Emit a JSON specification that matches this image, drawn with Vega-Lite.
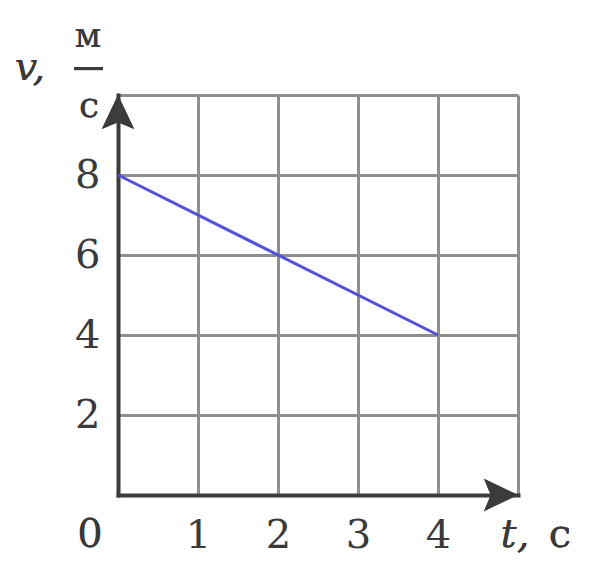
{
  "$schema": "https://vega.github.io/schema/vega-lite/v6.json",
  "width": 400,
  "height": 400,
  "autosize": {"type": "none"},
  "padding": {"left": 118, "top": 95, "right": 74, "bottom": 75},
  "background": "white",
  "config": {"view": {"stroke": null}, "font": "DejaVu Serif"},
  "data": {"values": [{"t": 0, "v": 8}, {"t": 4, "v": 4}]},
  "layer": [
    {
      "mark": {"type": "line", "color": "#5252d6", "strokeWidth": 3},
      "encoding": {
        "x": {
          "field": "t", "type": "quantitative",
          "scale": {"domain": [0, 5], "nice": false, "zero": false},
          "axis": {
            "title": null, "values": [0, 1, 2, 3, 4, 5], "format": "d", "grid": true,
            "gridColor": "#8e8e8e", "gridWidth": 3, "gridOpacity": 1,
            "ticks": false, "domain": true, "domainColor": "#3c3c3c", "domainWidth": 4, "domainCap": "square",
            "labelExpr": "datum.value >= 1 && datum.value <= 4 ? datum.label : ''",
            "labelFontSize": 40, "labelColor": "#3a3a3a", "labelFont": "DejaVu Serif",
            "labelBaseline": "alphabetic", "labelPadding": 52,
            "labelOverlap": false, "labelFlush": false, "labelBound": false
          }
        },
        "y": {
          "field": "v", "type": "quantitative",
          "scale": {"domain": [0, 10], "nice": false, "zero": false},
          "axis": {
            "title": null, "values": [0, 2, 4, 6, 8, 10], "format": "d", "grid": true,
            "gridColor": "#8e8e8e", "gridWidth": 3, "gridOpacity": 1,
            "ticks": false, "domain": true, "domainColor": "#3c3c3c", "domainWidth": 4, "domainCap": "square",
            "labelExpr": "datum.value >= 2 && datum.value <= 8 ? datum.label : ''",
            "labelFontSize": 40, "labelColor": "#3a3a3a", "labelFont": "DejaVu Serif",
            "labelBaseline": "middle", "labelAlign": "right", "labelPadding": 18,
            "labelOverlap": false, "labelFlush": false, "labelBound": false
          }
        }
      }
    },
    {
      "mark": {"type": "point", "shape": "M0,0 L0.95,2 L0,1.6 L-0.95,2 Z", "filled": true, "opacity": 1, "color": "#3c3c3c", "size": 1156},
      "encoding": {"x": {"datum": 0, "type": "quantitative"}, "y": {"datum": 10, "type": "quantitative"}}
    },
    {
      "mark": {"type": "point", "shape": "M0,0 L-2,0.95 L-1.6,0 L-2,-0.95 Z", "filled": true, "opacity": 1, "color": "#3c3c3c", "size": 1156},
      "encoding": {"x": {"datum": 5, "type": "quantitative"}, "y": {"datum": 0, "type": "quantitative"}}
    },
    {
      "mark": {"type": "text", "fontSize": 40, "color": "#3a3a3a", "align": "center", "baseline": "alphabetic"},
      "encoding": {"x": {"datum": -0.35, "type": "quantitative"}, "y": {"datum": -1.3, "type": "quantitative"}, "text": {"value": "0"}}
    },
    {
      "mark": {"type": "text", "fontSize": 40, "fontStyle": "italic", "color": "#3a3a3a", "align": "center", "baseline": "alphabetic"},
      "encoding": {"x": {"datum": 4.9625, "type": "quantitative"}, "y": {"datum": -1.3, "type": "quantitative"}, "text": {"value": "t,"}}
    },
    {
      "mark": {"type": "text", "fontSize": 40, "color": "#3a3a3a", "align": "center", "baseline": "alphabetic"},
      "encoding": {"x": {"datum": 5.525, "type": "quantitative"}, "y": {"datum": -1.3, "type": "quantitative"}, "text": {"value": "с"}}
    },
    {
      "mark": {"type": "text", "fontSize": 40, "fontStyle": "italic", "color": "#3a3a3a", "align": "center", "baseline": "alphabetic"},
      "encoding": {"x": {"datum": -1.1, "type": "quantitative"}, "y": {"datum": 10.375, "type": "quantitative"}, "text": {"value": "v,"}}
    },
    {
      "mark": {"type": "text", "fontSize": 34, "color": "#3a3a3a", "align": "center", "baseline": "alphabetic"},
      "encoding": {"x": {"datum": -0.375, "type": "quantitative"}, "y": {"datum": 11.2, "type": "quantitative"}, "text": {"value": "м"}}
    },
    {
      "mark": {"type": "rule", "color": "#3c3c3c", "strokeWidth": 3},
      "encoding": {"x": {"datum": -0.55, "type": "quantitative"}, "x2": {"datum": -0.1875}, "y": {"datum": 10.66, "type": "quantitative"}}
    },
    {
      "mark": {"type": "text", "fontSize": 36, "color": "#3a3a3a", "align": "center", "baseline": "alphabetic"},
      "encoding": {"x": {"datum": -0.3625, "type": "quantitative"}, "y": {"datum": 9.45, "type": "quantitative"}, "text": {"value": "с"}}
    }
  ]
}
